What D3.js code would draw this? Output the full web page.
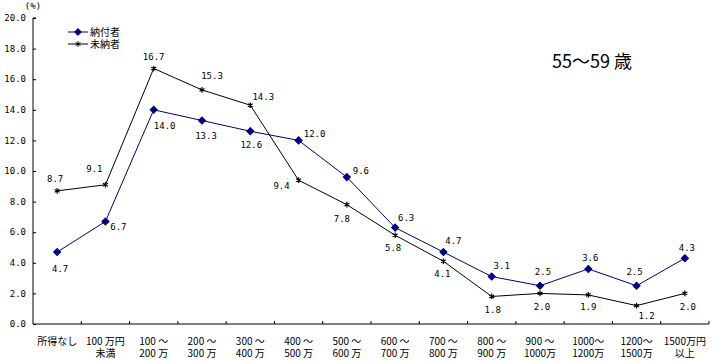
<!DOCTYPE html>
<html>
<head>
<meta charset="utf-8">
<script src="https://cdn.jsdelivr.net/npm/d3@7"></script>
<style>
  body { margin: 0; background: #fff; }
  svg { display: block; }
  .num { font-family: "DejaVu Sans Mono", monospace; font-size: 9px; fill: #000; }
  .cjk { font-family: "Noto Sans CJK JP", sans-serif; font-size: 10px; fill: #000; }
</style>
</head>
<body>
<div id="chart"></div>
<script>
// categories (two-line labels)
const catLine1 = ["所得なし", "100 万円", "100 ～", "200 ～", "300 ～", "400 ～", "500 ～", "600 ～", "700 ～", "800 ～", "900 ～", "1000～", "1200～", "1500万円"];
const catLine2 = ["", "未満", "200 万", "300 万", "400 万", "500 万", "600 万", "700 万", "800 万", "900 万", "1000万", "1200万", "1500万", "以上"];

const paid   = [4.7, 6.7, 14.0, 13.3, 12.6, 12.0, 9.6, 6.3, 4.7, 3.1, 2.5, 3.6, 2.5, 4.3];
const unpaid = [8.7, 9.1, 16.7, 15.3, 14.3, 9.4, 7.8, 5.8, 4.1, 1.8, 2.0, 1.9, 1.2, 2.0];

const yTicks = [0, 2, 4, 6, 8, 10, 12, 14, 16, 18, 20];
const seriesNames = ["納付者", "未納者"];
const title = "55～59 歳";

// label offsets relative to each point (layout only)
const paidOffsets = [[3,17],[13,5],[11,16],[4,15],[1,14],[16,-7],[14,-6],[11,-10],[10,-11],[10,-11],[3,-14],[2,-11],[-2,-14],[2,-10]];
const unpaidOffsets = [[-2,-12],[-11,-16],[0,-12],[10,-14],[13,-8],[-17,6],[-5,14],[-2,13],[-1,13],[1,13],[2,13],[0,12],[10,10],[3,13]];

const W = 714, H = 361;
const mLeft = 33, mRight = 709, mTop = 18, mBottom = 324;

const svg = d3.select('#chart').append('svg')
    .attr('width', W)
    .attr('height', H);

const cats = catLine1.map((d, i) => i);
const x = d3.scaleBand().domain(cats).range([mLeft, mRight]);
const y = d3.scaleLinear().domain([0, 20]).range([mBottom, mTop]);

// y axis
svg.append('g')
    .attr('transform', `translate(${mLeft},0)`)
    .call(d3.axisRight(y).tickValues(yTicks).tickSize(3).tickFormat(''))
    .call(g => g.select('.domain').attr('d', `M3,${mTop}H0V${mBottom}`))
    .call(g => g.selectAll('line').attr('stroke', '#000'));

svg.selectAll('.ylab')
    .data(yTicks)
    .enter().append('text')
    .attr('class', 'num')
    .attr('x', mLeft - 7)
    .attr('y', d => y(d))
    .attr('dy', '0.35em')
    .attr('text-anchor', 'end')
    .text(d => d.toFixed(1));

svg.append('text')
    .attr('class', 'num')
    .attr('x', mLeft)
    .attr('y', 9)
    .attr('text-anchor', 'middle')
    .text('(%)');

// x axis
const xBounds = cats.slice(1).map(i => x(i)).concat([mRight]);
svg.append('line')
    .attr('x1', mLeft).attr('x2', mRight)
    .attr('y1', mBottom).attr('y2', mBottom)
    .attr('stroke', '#000');
svg.selectAll('.xtick')
    .data(xBounds)
    .enter().append('line')
    .attr('x1', d => d).attr('x2', d => d)
    .attr('y1', mBottom).attr('y2', mBottom - 3)
    .attr('stroke', '#000');

const cx = i => x(i) + x.bandwidth() / 2;

const xl = svg.selectAll('.xlab')
    .data(cats)
    .enter().append('text')
    .attr('class', 'cjk')
    .attr('text-anchor', 'middle');
xl.append('tspan')
    .attr('x', cx)
    .attr('y', 345)
    .text(i => catLine1[i]);
xl.append('tspan')
    .attr('x', cx)
    .attr('y', 357)
    .text(i => catLine2[i]);

const line = d3.line().x((d, i) => cx(i)).y(d => y(d));

const starPath = d3.symbol().type(d3.symbolAsterisk).size(22);
const diamondPath = d3.symbol().type(d3.symbolDiamond2).size(30);

function drawSeries(values, color, offsets, marker) {
    svg.append('path')
        .datum(values)
        .attr('fill', 'none')
        .attr('stroke', color)
        .attr('stroke-width', 1)
        .attr('d', line);

    svg.selectAll(null)
        .data(values)
        .enter().append('path')
        .attr('transform', (d, i) => `translate(${cx(i)},${y(d)})`)
        .attr('d', marker)
        .attr('fill', color)
        .attr('stroke', color)
        .attr('stroke-width', 1.2);

    svg.selectAll(null)
        .data(values)
        .enter().append('text')
        .attr('class', 'num')
        .attr('text-anchor', 'middle')
        .attr('dy', '0.35em')
        .attr('x', (d, i) => cx(i) + offsets[i][0])
        .attr('y', (d, i) => y(d) + offsets[i][1])
        .text(d => d.toFixed(1));
}

drawSeries(unpaid, '#000', unpaidOffsets, starPath);
drawSeries(paid, '#000080', paidOffsets, diamondPath);

// legend
const legend = [
    { name: seriesNames[0], color: '#000080', marker: diamondPath, ly: 32 },
    { name: seriesNames[1], color: '#000', marker: starPath, ly: 44 }
];
legend.forEach(l => {
    svg.append('line')
        .attr('x1', 68).attr('x2', 88)
        .attr('y1', l.ly).attr('y2', l.ly)
        .attr('stroke', l.color);
    svg.append('path')
        .attr('transform', `translate(78,${l.ly})`)
        .attr('d', l.marker)
        .attr('fill', l.color)
        .attr('stroke', l.color);
    svg.append('text')
        .attr('class', 'cjk')
        .attr('x', 90)
        .attr('y', l.ly)
        .attr('dy', '0.35em')
        .text(l.name);
});

svg.append('text')
    .attr('x', 552)
    .attr('y', 62)
    .attr('dy', '0.35em')
    .style('font-family', '"Noto Sans CJK JP", sans-serif')
    .style('font-size', '18px')
    .text(title);
</script>
</body>
</html>
